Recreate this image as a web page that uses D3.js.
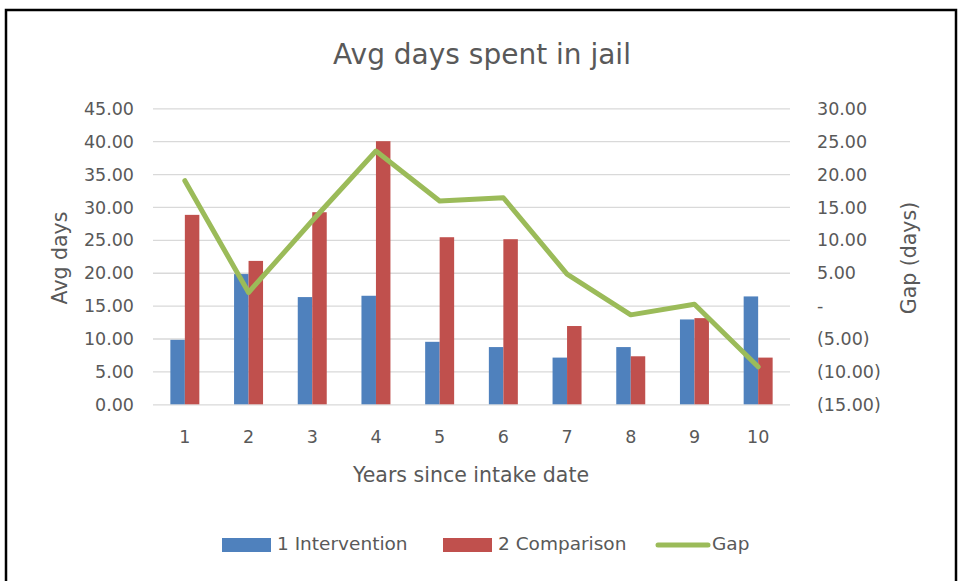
<!DOCTYPE html>
<html>
<head>
<meta charset="utf-8">
<script src="https://cdn.jsdelivr.net/npm/d3@7"></script>
<style>
  body { margin: 0; background: #fff; }
  text { font-family: "DejaVu Sans", sans-serif; fill: #595959; }
</style>
</head>
<body>
<svg id="chart"></svg>
<script>
var years = [1, 2, 3, 4, 5, 6, 7, 8, 9, 10];
var intervention = [9.8, 19.8, 16.3, 16.5, 9.5, 8.7, 7.1, 8.7, 12.9, 16.4];
var comparison = [28.8, 21.8, 29.2, 40.0, 25.4, 25.1, 11.9, 7.3, 13.1, 7.1];
var gap = [19.0, 2.0, 12.9, 23.5, 15.9, 16.4, 4.8, -1.4, 0.2, -9.3];
var leftTicks = [0, 5, 10, 15, 20, 25, 30, 35, 40, 45];
var rightTicks = [-15, -10, -5, 0, 5, 10, 15, 20, 25, 30];
var seriesNames = ["1 Intervention", "2 Comparison", "Gap"];

var width = 960, height = 581;
var colors = { "1 Intervention": "#4F81BD", "2 Comparison": "#C0504D", "Gap": "#9BBB59" };

var svg = d3.select("#chart")
            .attr("width", width)
            .attr("height", height);

// outer frame
svg.append("rect")
   .attr("x", 6).attr("y", 10)
   .attr("width", 950).attr("height", 590)
   .attr("fill", "none")
   .attr("stroke", "#000")
   .attr("stroke-width", 2.5);

var plot = { left: 153, right: 790, top: 108.3, bottom: 404.3 };

var x0 = d3.scaleBand()
           .domain(years)
           .range([plot.left, plot.right])
           .paddingInner(0.545)
           .paddingOuter(0.2725);

var x1 = d3.scaleBand()
           .domain(["1 Intervention", "2 Comparison"])
           .range([0, x0.bandwidth()]);

var yL = d3.scaleLinear().domain([0, 45]).range([plot.bottom, plot.top]);
var yR = d3.scaleLinear().domain([-15, 30]).range([plot.bottom, plot.top]);

// gridlines
svg.append("g")
   .attr("class", "grid")
   .attr("transform", "translate(" + plot.left + ",0)")
   .call(d3.axisLeft(yL).tickValues(leftTicks).tickSize(-(plot.right - plot.left)).tickFormat(""))
   .call(function(g){
     g.select(".domain").remove();
     g.selectAll("line").attr("stroke", "#D9D9D9").attr("stroke-width", 1.3);
   });

// left axis labels
svg.append("g")
   .attr("transform", "translate(" + 141 + ",0)")
   .call(d3.axisLeft(yL).tickValues(leftTicks).tickSize(0).tickFormat(d3.format(".2f")))
   .call(function(g){
     g.select(".domain").remove();
     g.selectAll("text").attr("font-size", 17.5).attr("x", -7).attr("dy", "0.35em");
   });

// right axis labels
var rightFmt = function(d){
  if (d === 0) return "-";
  if (d < 0) return "(" + d3.format(".2f")(-d) + ")";
  return d3.format(".2f")(d);
};
svg.append("g")
   .attr("transform", "translate(" + 810 + ",0)")
   .call(d3.axisRight(yR).tickValues(rightTicks).tickSize(0).tickFormat(rightFmt))
   .call(function(g){
     g.select(".domain").remove();
     g.selectAll("text").attr("font-size", 17.5).attr("x", 7).attr("dy", "0.35em");
   });

// x axis labels
svg.append("g")
   .attr("transform", "translate(0," + (plot.bottom + 23) + ")")
   .call(d3.axisBottom(x0).tickSize(0))
   .call(function(g){
     g.select(".domain").remove();
     g.selectAll("text").attr("font-size", 17.5).attr("dy", "0.71em");
   });

// bars
var barData = years.map(function(y, i){
  return [
    { year: y, name: "1 Intervention", value: intervention[i] },
    { year: y, name: "2 Comparison", value: comparison[i] }
  ];
});

var groups = svg.append("g")
                .selectAll("g")
                .data(barData)
                .enter()
                .append("g")
                .attr("transform", function(d){ return "translate(" + x0(d[0].year) + ",0)"; });

groups.selectAll("rect")
      .data(function(d){ return d; })
      .enter()
      .append("rect")
      .attr("x", function(d){ return x1(d.name); })
      .attr("y", function(d){ return yL(d.value); })
      .attr("width", x1.bandwidth())
      .attr("height", function(d){ return yL(0) - yL(d.value); })
      .attr("fill", function(d){ return colors[d.name]; });

// gap line
var line = d3.line()
             .x(function(d, i){ return x0(years[i]) + x0.bandwidth() / 2; })
             .y(function(d){ return yR(d); });

svg.append("path")
   .datum(gap)
   .attr("d", line)
   .attr("fill", "none")
   .attr("stroke", colors["Gap"])
   .attr("stroke-width", 5)
   .attr("stroke-linejoin", "round")
   .attr("stroke-linecap", "round");

// titles
svg.append("text")
   .attr("x", 482).attr("y", 56)
   .attr("text-anchor", "middle")
   .attr("dominant-baseline", "middle")
   .attr("font-size", 28)
   .text("Avg days spent in jail");

svg.append("text")
   .attr("transform", "translate(61,258) rotate(-90)")
   .attr("text-anchor", "middle")
   .attr("dominant-baseline", "middle")
   .attr("font-size", 20.5)
   .text("Avg days");

svg.append("text")
   .attr("transform", "translate(910,258) rotate(-90)")
   .attr("text-anchor", "middle")
   .attr("dominant-baseline", "middle")
   .attr("font-size", 20.5)
   .text("Gap (days)");

svg.append("text")
   .attr("x", 471).attr("y", 476)
   .attr("text-anchor", "middle")
   .attr("dominant-baseline", "middle")
   .attr("font-size", 20.5)
   .text("Years since intake date");

// legend
var legendX = [222, 443, 656];
var legend = svg.append("g")
                .selectAll("g")
                .data(seriesNames)
                .enter()
                .append("g")
                .attr("transform", function(d, i){ return "translate(" + legendX[i] + ",545)"; });

legend.each(function(d){
  var g = d3.select(this);
  if (d === "Gap") {
    g.append("line")
     .attr("x1", 2).attr("x2", 52)
     .attr("y1", 0).attr("y2", 0)
     .attr("stroke", colors[d])
     .attr("stroke-width", 5)
     .attr("stroke-linecap", "round");
  } else {
    g.append("rect")
     .attr("x", 0).attr("y", -7)
     .attr("width", 49).attr("height", 14)
     .attr("fill", colors[d]);
  }
  g.append("text")
   .attr("x", d === "Gap" ? 56 : 55)
   .attr("y", 0)
   .attr("dominant-baseline", "middle")
   .attr("font-size", 18.5)
   .text(d);
});
</script>
</body>
</html>
